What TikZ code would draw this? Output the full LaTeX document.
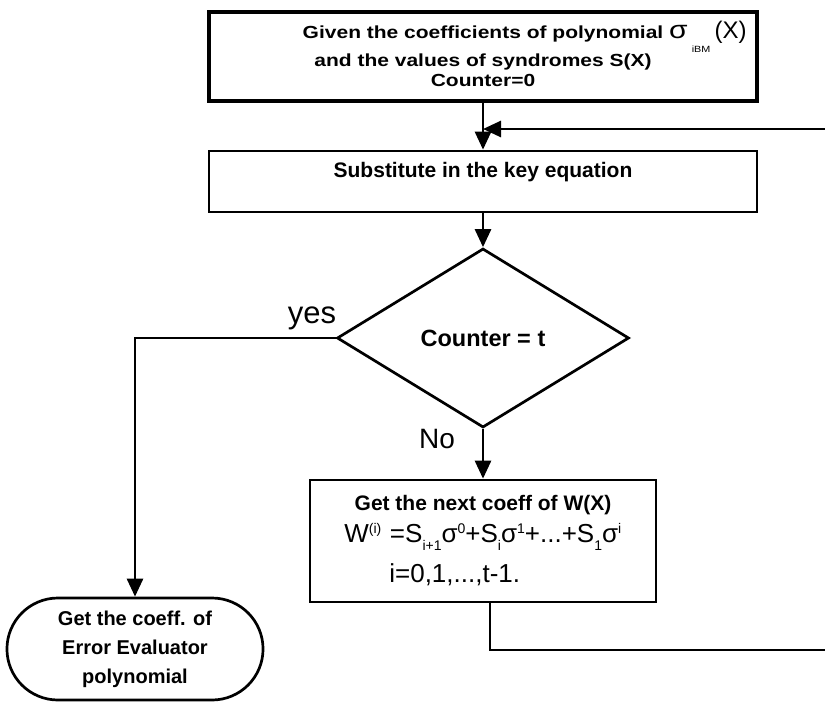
\documentclass[tikz,border=0pt]{standalone}
\usepackage{fontspec}
\setmainfont{Liberation Sans}
\newfontfamily\topfont[FakeStretch=1.2]{Liberation Sans}
\usetikzlibrary{shapes.geometric,shapes.misc,arrows.meta}
\newcommand\mysb[1]{\raisebox{-8pt}{\fontsize{14}{14}\selectfont #1}}
\newcommand\mysp[1]{\raisebox{9pt}{\fontsize{14}{14}\selectfont #1}}
\begin{document}
\begin{tikzpicture}[x=1pt,y=-1pt,line width=2.7pt,
  >={Triangle[length=18pt,width=16pt]},
  box/.style={draw,rectangle,inner sep=0pt,line width=2.7pt},
  topbox/.style={box,line width=3.3pt,minimum width=548pt,text height=26pt,text depth=63pt,
     font=\topfont\fontsize{17.5}{20.5}\selectfont\bfseries},
  subbox/.style={box,minimum width=548pt,text height=26pt,text depth=35pt,
     font=\fontsize{21}{25}\selectfont\bfseries},
  wbox/.style={box,minimum width=346pt,text height=30pt,text depth=92pt,
     font=\fontsize{21}{25}\selectfont\bfseries},
  decision/.style={draw,diamond,minimum width=292pt,minimum height=179pt,inner sep=0pt,
     font=\fontsize{23.5}{28}\selectfont\bfseries},
  term/.style={draw,rounded rectangle,minimum width=252pt,inner sep=0pt,text height=27pt,text depth=75pt,
     font=\fontsize{20}{29}\selectfont\bfseries},
  lbl/.style={anchor=base,inner sep=0pt},
  flow/.style={->,line width=2.7pt}]
\useasboundingbox (0,0) rectangle (825,702);

\node[topbox] (top) at (483,56.5) {\begin{tabular}[t]{@{}c@{}}Given the coefficients of polynomial\rlap{ {\mdseries\fontsize{25}{25}\selectfont σ\,\raisebox{-14pt}{\fontsize{9}{9}\selectfont iBM}\,{\rmfamily\fontsize{24}{24}\selectfont(X)}}}\\ and the values of syndromes S(X)\\ Counter=0\end{tabular}};

\node[subbox] (sub) at (483,181.5) {Substitute in the key equation};

\node[decision] (dec) at (483,338) {Counter = t};

\node[wbox] (wb) at (483,541) {Get the next coeff of W(X)};
\node[lbl,anchor=base west,font=\fontsize{26}{30}\selectfont] (form) at (343,542)
  {W\mysp{(i)}\,\,=S\mysb{i+1}σ\mysp{0}+S\mysb{i}σ\mysp{1}+...+S\mysb{1}σ\mysp{i}};
\node[lbl,anchor=base west,font=\fontsize{26}{30}\selectfont] (idx) at (388,582) {i=0,1,...,t-1.};

\node[term] (term) at (135,649) {\begin{tabular}[t]{@{}c@{}}Get the coeff. of\\ Error Evaluator\\ polynomial\end{tabular}};

\node[lbl,font=\fontsize{31}{31}\selectfont] (yes) at (312,323) {yes};
\node[lbl,font=\fontsize{28}{28}\selectfont] (no) at (437,448) {No};

\coordinate (fbR) at (825,129);
\coordinate (fbJ) at (483,129);
\coordinate (lp1) at (490,650);
\coordinate (lpR) at (825,650);

\draw[flow] (top) -- (sub);
\draw[flow] (fbR) -- (fbJ);
\draw[flow] (sub) -- (dec);
\draw[flow] (dec.west) -| (term.north);
\draw[flow] (dec) -- (wb);
\draw (wb.south -| lp1) -- (lp1) -- (lpR);
\end{tikzpicture}
\end{document}
